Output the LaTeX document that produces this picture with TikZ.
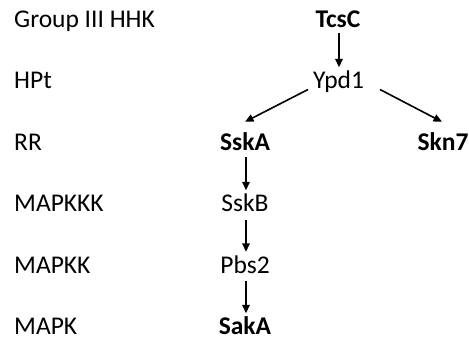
\documentclass[tikz,border=0pt]{standalone}
\usepackage{fontspec}
\setmainfont{Carlito}
\usetikzlibrary{arrows.meta,calc}
\begin{document}
\begin{tikzpicture}[x=1pt,y=-1pt,
  lbl/.style={anchor=base west,inner sep=0pt,font=\fontsize{25.5}{30}\selectfont},
  prot/.style={anchor=base,inner sep=0pt,text height=16pt,text depth=5pt,font=\fontsize{25.5}{30}\selectfont},
  bprot/.style={prot,font=\fontsize{25.5}{30}\selectfont\bfseries},
  arr/.style={line width=1.6pt,-{Triangle[length=8.5pt,width=7.5pt]}}]
\useasboundingbox (0,0) rectangle (469,341);
% level labels
\node[lbl] (l1) at (14,27) {Group III HHK};
\node[lbl] (l2) at (14,88.5) {HPt};
\node[lbl] (l3) at (14,150) {RR};
\node[lbl] (l4) at (14,211.5) {MAPKKK};
\node[lbl] (l5) at (14,273) {MAPKK};
\node[lbl] (l6) at (14,334.5) {MAPK};
% proteins
\node[bprot] (tcsc) at (338,27) {TcsC};
\node[prot] (ypd) at (338.5,88.5) {Ypd1};
\node[bprot] (sska) at (245,150) {SskA};
\node[bprot] (skn) at (443,150) {Skn7};
\node[prot] (sskb) at (245,211.5) {SskB};
\node[prot] (pbs) at (245,273) {Pbs2};
\node[bprot] (saka) at (245,334.5) {SakA};
% arrows
\draw[arr] ($(tcsc.south)+(1,1)$) -- ($(ypd.north)+(0.5,-5)$);
\draw[arr] ($(ypd.base)+(-30.5,1)$) -- ($(sska.north)+(0,-12)$);
\draw[arr] ($(ypd.base)+(41.5,1)$) -- ($(skn.north)+(-1,-12)$);
\draw[arr] ($(sska.south)+(1,2)$) -- ($(sskb.north)+(1,-5)$);
\draw[arr] ($(sskb.south)+(1,3)$) -- ($(pbs.north)+(1,-5)$);
\draw[arr] ($(pbs.south)+(1,3)$) -- ($(saka.north)+(1,-5)$);
\end{tikzpicture}
\end{document}
